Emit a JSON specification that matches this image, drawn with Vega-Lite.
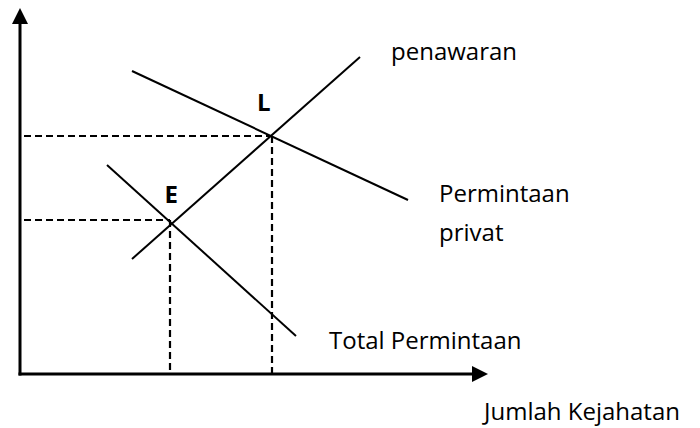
{
  "$schema": "https://vega.github.io/schema/vega-lite/v6.json",
  "width": 700,
  "height": 428,
  "padding": 0,
  "autosize": {"type": "none"},
  "background": "white",
  "config": {"view": {"stroke": null}},
  "datasets": {
    "curves": [
      {"name": "penawaran", "x": 112, "y": 115, "x2": 340, "y2": 317},
      {"name": "Permintaan privat", "x": 112, "y": 303, "x2": 388, "y2": 174},
      {"name": "Total Permintaan", "x": 87, "y": 209, "x2": 276, "y2": 38}
    ],
    "hguides": [
      {"x": 0, "y": 238, "x2": 252, "y2": 238},
      {"x": 0, "y": 154, "x2": 150, "y2": 154}
    ],
    "vguides": [
      {"x": 252, "y": 238, "x2": 252, "y2": 0},
      {"x": 150, "y": 154, "x2": 150, "y2": 0}
    ],
    "axes": [
      {"x": 0, "y": 0, "x2": 0, "y2": 352},
      {"x": 0, "y": 0, "x2": 458, "y2": 0}
    ],
    "arrows": [
      {"x": 0, "y": 358, "dir": "up"},
      {"x": 460, "y": 0, "dir": "right"}
    ],
    "labels": [
      {"x": 371, "y": 314, "text": "penawaran"},
      {"x": 419, "y": 172, "text": "Permintaan"},
      {"x": 419, "y": 133, "text": "privat"},
      {"x": 309, "y": 25, "text": "Total Permintaan"},
      {"x": 464, "y": -46, "text": "Jumlah Kejahatan"}
    ],
    "points": [
      {"x": 237, "y": 263, "text": "L"},
      {"x": 144.5, "y": 171, "text": "E"}
    ]
  },
  "encoding": {
    "x": {"field": "x", "type": "quantitative", "axis": null, "scale": {"domain": [-20, 680], "nice": false, "zero": false}},
    "y": {"field": "y", "type": "quantitative", "axis": null, "scale": {"domain": [-54, 374], "nice": false, "zero": false}}
  },
  "layer": [
    {
      "data": {"name": "hguides"},
      "mark": {"type": "rule", "color": "black", "strokeWidth": 2.2, "strokeDash": [7, 4], "strokeDashOffset": 7},
      "encoding": {"x2": {"field": "x2"}, "y2": {"field": "y2"}}
    },
    {
      "data": {"name": "vguides"},
      "mark": {"type": "rule", "color": "black", "strokeWidth": 2.2, "strokeDash": [7, 4]},
      "encoding": {"x2": {"field": "x2"}, "y2": {"field": "y2"}}
    },
    {
      "data": {"name": "curves"},
      "mark": {"type": "rule", "color": "black", "strokeWidth": 2},
      "encoding": {"x2": {"field": "x2"}, "y2": {"field": "y2"}}
    },
    {
      "data": {"name": "axes"},
      "mark": {"type": "rule", "color": "black", "strokeWidth": 3, "strokeCap": "square"},
      "encoding": {"x2": {"field": "x2"}, "y2": {"field": "y2"}}
    },
    {
      "data": {"name": "arrows"},
      "mark": {"type": "point", "filled": true, "color": "black", "opacity": 1, "size": 256, "strokeWidth": 0},
      "encoding": {
        "shape": {"field": "dir", "type": "nominal", "legend": null,
          "scale": {"domain": ["up", "right"], "range": ["M0,-1L1,1L-1,1Z", "M1,0L-1,-1L-1,1Z"]}}
      }
    },
    {
      "data": {"name": "labels"},
      "mark": {"type": "text", "align": "left", "baseline": "alphabetic", "font": "Open Sans", "fontSize": 24, "color": "black"},
      "encoding": {"text": {"field": "text"}}
    },
    {
      "data": {"name": "points"},
      "mark": {"type": "text", "align": "left", "baseline": "alphabetic", "font": "Open Sans", "fontWeight": "bold", "fontSize": 24, "color": "black"},
      "encoding": {"text": {"field": "text"}}
    }
  ]
}
